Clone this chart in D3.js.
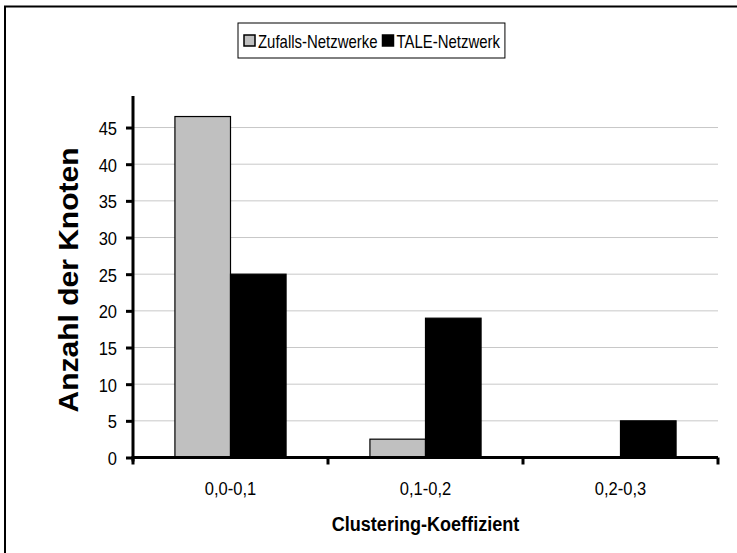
<!DOCTYPE html>
<html>
<head>
<meta charset="utf-8">
<script src="https://cdn.jsdelivr.net/npm/d3@7"></script>
<style>
  html, body { margin: 0; padding: 0; background: #fff; }
  svg { display: block; font-family: Arial, "Liberation Sans", sans-serif; }
</style>
</head>
<body>
<svg id="chart" width="737" height="553"></svg>
<script>
// Clustering coefficient distribution: random networks vs. TALE network
const categories = ["0,0-0,1", "0,1-0,2", "0,2-0,3"];
const zufallsValues = [46.5, 2.5, 0];
const taleValues = [25, 19, 5];
const seriesNames = ["Zufalls-Netzwerke", "TALE-Netzwerk"];
const seriesColors = ["#c0c0c0", "#000000"];
const yTicks = [0, 5, 10, 15, 20, 25, 30, 35, 40, 45];

const FONT = "Arial, 'Liberation Sans', sans-serif";
const SX = 0.87; // horizontal condensing of the lettering

const svg = d3.select("#chart");

// outer frame
svg.append("rect")
  .attr("x", 5).attr("y", 6.5)
  .attr("width", 800).attr("height", 800)
  .attr("fill", "none").attr("stroke", "#000").attr("stroke-width", 2);

const plot = { left: 133, right: 718, top: 96, bottom: 457.5 };

const y = d3.scaleLinear().domain([0, 49.3]).range([plot.bottom, plot.top]);
const x0 = d3.scaleBand().domain(categories)
  .range([plot.left, plot.right])
  .paddingInner(0.43).paddingOuter(0.215);
const x1 = d3.scaleBand().domain(seriesNames).range([0, x0.bandwidth()]);

// gridlines
svg.append("g")
  .selectAll("line")
  .data(yTicks.filter(d => d > 0))
  .join("line")
  .attr("x1", plot.left).attr("x2", plot.right)
  .attr("y1", d => y(d)).attr("y2", d => y(d))
  .attr("stroke", "#c8c8c8").attr("stroke-width", 1);

// bars
const rows = categories.map((c, i) => ({
  cat: c,
  vals: [
    { s: seriesNames[0], v: zufallsValues[i], color: seriesColors[0] },
    { s: seriesNames[1], v: taleValues[i], color: seriesColors[1] }
  ]
}));

svg.append("g")
  .selectAll("g")
  .data(rows)
  .join("g")
  .attr("transform", d => `translate(${x0(d.cat)},0)`)
  .selectAll("rect")
  .data(d => d.vals.filter(e => e.v > 0))
  .join("rect")
  .attr("x", d => x1(d.s))
  .attr("width", x1.bandwidth())
  .attr("y", d => y(d.v))
  .attr("height", d => y(0) - y(d.v))
  .attr("fill", d => d.color)
  .attr("stroke", "#000").attr("stroke-width", 1.2);

// y axis
const yAxis = svg.append("g")
  .attr("transform", `translate(${plot.left},0)`)
  .call(d3.axisLeft(y).tickValues(yTicks).tickSize(7).tickFormat(d3.format("d")));
yAxis.select(".domain").attr("stroke-width", 3).attr("d", `M0,${plot.top}V${plot.bottom + 4}`);
yAxis.selectAll(".tick line").attr("stroke-width", 3);
yAxis.selectAll(".tick text")
  .attr("x", -16 / SX).attr("dy", "0.36em")
  .attr("transform", `scale(${SX},1)`)
  .attr("font-size", 19).attr("font-family", FONT).attr("fill", "#000");

// x axis
const xAxis = svg.append("g")
  .attr("transform", `translate(0,${plot.bottom})`)
  .call(d3.axisBottom(x0).tickSize(0));
xAxis.select(".domain").attr("stroke-width", 3).attr("d", `M${plot.left - 1.5},0H${plot.right}`);
xAxis.selectAll(".tick text")
  .attr("y", 38).attr("dy", null)
  .attr("transform", `scale(${SX},1)`)
  .attr("font-size", 19).attr("font-family", FONT).attr("fill", "#000");

// category boundary tick marks
const step = x0.step();
xAxis.append("g")
  .selectAll("line")
  .data(d3.range(categories.length + 1))
  .join("line")
  .attr("x1", i => plot.left + i * step).attr("x2", i => plot.left + i * step)
  .attr("y1", 0).attr("y2", 7)
  .attr("stroke", "#000").attr("stroke-width", 3);

// axis titles
svg.append("text")
  .attr("transform", `translate(${(plot.left + plot.right) / 2},531) scale(0.86,1)`)
  .attr("text-anchor", "middle")
  .attr("font-size", 21).attr("font-weight", "bold")
  .text("Clustering-Koeffizient");

svg.append("text")
  .attr("transform", `translate(78,280) scale(0.95,1) rotate(-90)`)
  .attr("text-anchor", "middle")
  .attr("font-size", 30).attr("font-weight", "bold")
  .text("Anzahl der Knoten");

// legend
const legend = svg.append("g").attr("transform", "translate(238,23)");
const legendBox = legend.append("rect")
  .attr("height", 35)
  .attr("fill", "#fff").attr("stroke", "#000").attr("stroke-width", 1);
let lx = 6;
seriesNames.forEach((name, i) => {
  legend.append("rect")
    .attr("x", lx).attr("y", 12).attr("width", 11).attr("height", 11)
    .attr("fill", seriesColors[i]).attr("stroke", "#000").attr("stroke-width", 1.5);
  const t = legend.append("text")
    .attr("transform", `translate(${lx + 14},24.5) scale(0.83,1)`)
    .attr("font-size", 18)
    .text(name);
  lx += 14 + t.node().getComputedTextLength() * 0.83 + 5;
});
legendBox.attr("width", lx);
</script>
</body>
</html>
